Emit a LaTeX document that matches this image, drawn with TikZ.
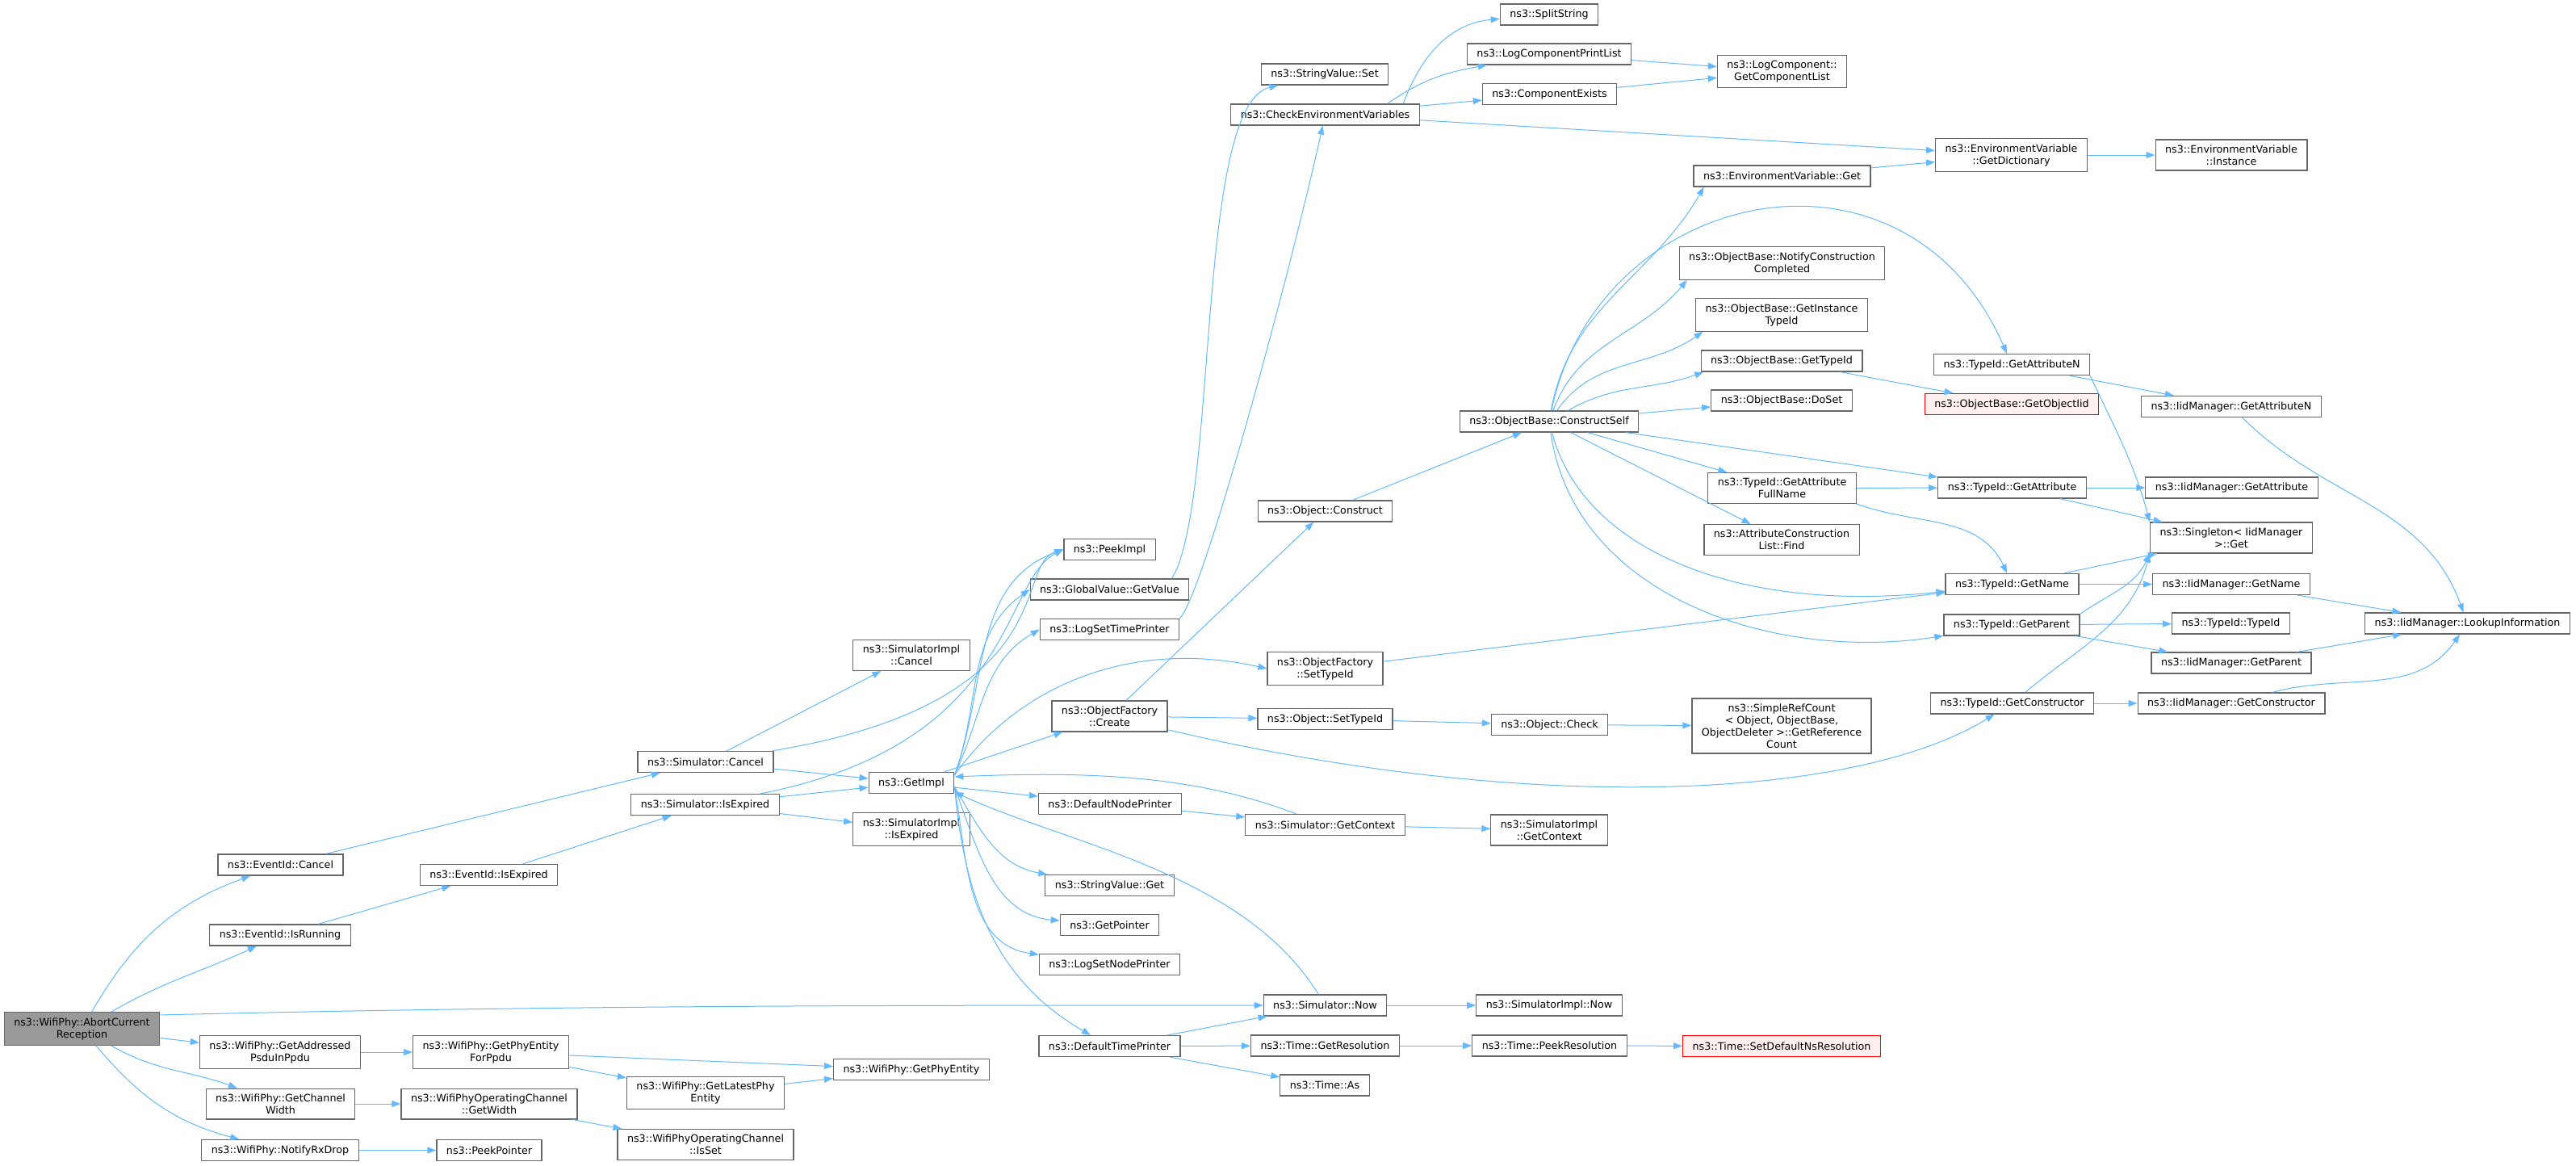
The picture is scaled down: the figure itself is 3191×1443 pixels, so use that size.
\documentclass[tikz,border=0pt]{standalone}
\usepackage{fontspec}
\setmainfont{DejaVu Sans}
\usepackage{tikz}
\usetikzlibrary{arrows.meta}
\usepackage{xcolor}
\definecolor{edgeBlue}{RGB}{99,184,255}
\definecolor{boxGray}{RGB}{102,102,102}
\definecolor{rootGray}{RGB}{153,153,153}
\definecolor{missRed}{RGB}{255,0,0}
\definecolor{missFill}{RGB}{255,240,240}

\begin{document}
\begin{tikzpicture}[
    x=1pt, y=-1pt,
    func/.style={rectangle, draw=boxGray, line width=1.2pt, fill=white, inner xsep=12pt, inner ysep=6.5pt, minimum height=26pt, align=center, font=\fontsize{12.7}{15}\selectfont},
    rootfunc/.style={func, fill=rootGray},
    missing/.style={func, draw=missRed, fill=missFill},
    arrow/.style={-{Triangle[length=11pt, width=8pt]}, draw=edgeBlue, line width=1pt}
]
\useasboundingbox (0,0) rectangle (3191,1443);

\node[rootfunc] (abort) at (101.5,1274) {ns3::WifiPhy::AbortCurrent\\Reception};
\node[func] (evCancel) at (347.5,1071) {ns3::EventId::Cancel};
\node[func] (evRunning) at (347,1158) {ns3::EventId::IsRunning};
\node[func] (addressed) at (347,1303) {ns3::WifiPhy::GetAddressed\\PsduInPpdu};
\node[func] (chanWidth) at (347.5,1367) {ns3::WifiPhy::GetChannel\\Width};
\node[func] (rxDrop) at (347,1424.5) {ns3::WifiPhy::NotifyRxDrop};
\node[func] (evExpired) at (605.5,1083.5) {ns3::EventId::IsExpired};
\node[func] (phyForPpdu) at (608,1303) {ns3::WifiPhy::GetPhyEntity\\ForPpdu};
\node[func] (opGetWidth) at (606,1367) {ns3::WifiPhyOperatingChannel\\::GetWidth};
\node[func] (peekPointer) at (606,1424.5) {ns3::PeekPointer};
\node[func] (simCancel) at (874,943.5) {ns3::Simulator::Cancel};
\node[func] (simExpired) at (873.5,996.5) {ns3::Simulator::IsExpired};
\node[func] (latestPhy) at (874,1353.5) {ns3::WifiPhy::GetLatestPhy\\Entity};
\node[func] (opIsSet) at (874,1417.5) {ns3::WifiPhyOperatingChannel\\::IsSet};
\node[func] (implCancel) at (1129,811.5) {ns3::SimulatorImpl\\::Cancel};
\node[func] (getImpl) at (1129,969.5) {ns3::GetImpl};
\node[func] (implExpired) at (1129,1027) {ns3::SimulatorImpl\\::IsExpired};
\node[func] (getPhyEntity) at (1129,1324.5) {ns3::WifiPhy::GetPhyEntity};
\node[func] (peekImpl) at (1374.5,680.5) {ns3::PeekImpl};
\node[func] (gvGetValue) at (1374.5,730) {ns3::GlobalValue::GetValue};
\node[func] (logSetTime) at (1374.5,779.5) {ns3::LogSetTimePrinter};
\node[func] (ofCreate) at (1374.5,887) {ns3::ObjectFactory\\::Create};
\node[func] (defNodePrinter) at (1375,995.5) {ns3::DefaultNodePrinter};
\node[func] (svGet) at (1374.5,1096.5) {ns3::StringValue::Get};
\node[func] (getPointer) at (1374.5,1145.5) {ns3::GetPointer};
\node[func] (logSetNode) at (1374.5,1194.5) {ns3::LogSetNodePrinter};
\node[func] (defTimePrinter) at (1374.5,1295.5) {ns3::DefaultTimePrinter};
\node[func] (svSet) at (1641,92) {ns3::StringValue::Set};
\node[func] (checkEnv) at (1641.5,142) {ns3::CheckEnvironmentVariables};
\node[func] (objConstruct) at (1641.5,633) {ns3::Object::Construct};
\node[func] (ofSetTypeId) at (1641.5,828) {ns3::ObjectFactory\\::SetTypeId};
\node[func] (objSetTypeId) at (1641.5,890.5) {ns3::Object::SetTypeId};
\node[func] (simGetContext) at (1641.5,1021.5) {ns3::Simulator::GetContext};
\node[func] (simNow) at (1641.5,1245) {ns3::Simulator::Now};
\node[func] (timeGetRes) at (1641.5,1295) {ns3::Time::GetResolution};
\node[func] (timeAs) at (1641,1344) {ns3::Time::As};
\node[func] (splitString) at (1919,18) {ns3::SplitString};
\node[func] (logCompPrint) at (1919,67) {ns3::LogComponentPrintList};
\node[func] (compExists) at (1919.5,116.5) {ns3::ComponentExists};
\node[func] (constructSelf) at (1919,522) {ns3::ObjectBase::ConstructSelf};
\node[func] (objCheck) at (1919.5,897.5) {ns3::Object::Check};
\node[func] (implGetContext) at (1919,1028) {ns3::SimulatorImpl\\::GetContext};
\node[func] (implNow) at (1919,1245) {ns3::SimulatorImpl::Now};
\node[func] (timePeekRes) at (1919.5,1295) {ns3::Time::PeekResolution};
\node[func] (getCompList) at (2207.5,88.5) {ns3::LogComponent::\\GetComponentList};
\node[func] (envGet) at (2207.5,218) {ns3::EnvironmentVariable::Get};
\node[func] (notifyCC) at (2207.5,326) {ns3::ObjectBase::NotifyConstruction\\Completed};
\node[func] (getInstTypeId) at (2207,390) {ns3::ObjectBase::GetInstance\\TypeId};
\node[func] (obGetTypeId) at (2207,447) {ns3::ObjectBase::GetTypeId};
\node[func] (obDoSet) at (2207,496) {ns3::ObjectBase::DoSet};
\node[func] (tidGetAttrFull) at (2207.5,604.5) {ns3::TypeId::GetAttribute\\FullName};
\node[func] (acFind) at (2207,668.5) {ns3::AttributeConstruction\\List::Find};
\node[func] (simpleRef) at (2207,899) {ns3::SimpleRefCount\\< Object, ObjectBase,\\ObjectDeleter >::GetReference\\Count};
\node[missing] (timeSetDef) at (2207,1295.5) {ns3::Time::SetDefaultNsResolution};
\node[func] (getDict) at (2491.5,192) {ns3::EnvironmentVariable\\::GetDictionary};
\node[func] (tidGetAttrN) at (2492,451.5) {ns3::TypeId::GetAttributeN};
\node[missing] (getObjectIid) at (2492,500.5) {ns3::ObjectBase::GetObjectIid};
\node[func] (tidGetAttr) at (2492.5,604) {ns3::TypeId::GetAttribute};
\node[func] (tidGetName) at (2492.5,723.5) {ns3::TypeId::GetName};
\node[func] (tidGetParent) at (2492,774) {ns3::TypeId::GetParent};
\node[func] (tidGetCtor) at (2492.5,871) {ns3::TypeId::GetConstructor};
\node[func] (envInstance) at (2764,192) {ns3::EnvironmentVariable\\::Instance};
\node[func] (iidGetAttrN) at (2764,503.5) {ns3::IidManager::GetAttributeN};
\node[func] (iidGetAttr) at (2764.5,604) {ns3::IidManager::GetAttribute};
\node[func] (singletonGet) at (2764,666) {ns3::Singleton< IidManager\\>::Get};
\node[func] (iidGetName) at (2764,723.5) {ns3::IidManager::GetName};
\node[func] (tidTypeId) at (2763.5,772) {ns3::TypeId::TypeId};
\node[func] (iidGetParent) at (2764,821) {ns3::IidManager::GetParent};
\node[func] (iidGetCtor) at (2764,871) {ns3::IidManager::GetConstructor};
\node[func] (lookupInfo) at (3056.5,772) {ns3::IidManager::LookupInformation};

\draw[arrow] (abort) to[out=60,in=200] (evCancel);
\draw[arrow] (abort) to[out=30,in=205] (evRunning);
\draw[arrow] (abort.10) .. controls (700,1245) and (1100,1245) .. (simNow.west);
\draw[arrow] (abort) -- (addressed);
\draw[arrow] (abort) to[out=-30,in=160] (chanWidth);
\draw[arrow] (abort) to[out=-50,in=165] (rxDrop);
\draw[arrow] (evCancel) -- (simCancel);
\draw[arrow] (evRunning) -- (evExpired);
\draw[arrow] (evExpired) -- (simExpired);
\draw[arrow] (addressed) -- (phyForPpdu);
\draw[arrow] (phyForPpdu) -- (getPhyEntity);
\draw[arrow] (phyForPpdu) -- (latestPhy);
\draw[arrow] (latestPhy) -- (getPhyEntity);
\draw[arrow] (chanWidth) -- (opGetWidth);
\draw[arrow] (opGetWidth) -- (opIsSet);
\draw[arrow] (rxDrop) -- (peekPointer);
\draw[arrow] (simCancel) -- (implCancel);
\draw[arrow] (simCancel) -- (getImpl);
\draw[arrow] (simCancel) .. controls (1320,870) and (1255,700) .. (peekImpl.west);
\draw[arrow] (simExpired) -- (getImpl);
\draw[arrow] (simExpired) -- (implExpired);
\draw[arrow] (simExpired) .. controls (1260,920) and (1240,720) .. (peekImpl.west);
\draw[arrow] (getImpl.10) to[out=70,in=200] (peekImpl.west);
\draw[arrow] (getImpl.10) to[out=70,in=215] (gvGetValue.west);
\draw[arrow] (getImpl.10) to[out=65,in=210] (logSetTime.west);
\draw[arrow] (getImpl.10) .. controls (1260,850) and (1400,790) .. (ofSetTypeId.west);
\draw[arrow] (getImpl) -- (ofCreate);
\draw[arrow] (getImpl) -- (defNodePrinter);
\draw[arrow] (getImpl.-5) to[out=-60,in=170] (svGet);
\draw[arrow] (getImpl.-5) to[out=-70,in=175] (getPointer);
\draw[arrow] (getImpl.-5) to[out=-80,in=172] (logSetNode);
\draw[arrow] (getImpl.-5) to[out=-85,in=150] (defTimePrinter);
\draw[arrow] (simGetContext) .. controls (1480,960) and (1350,955) .. (getImpl.8);
\draw[arrow] (simNow) .. controls (1540,1080) and (1320,1045) .. (getImpl.-12);
\draw[arrow] (gvGetValue.10) .. controls (1510,620) and (1480,130) .. (svSet);
\draw[arrow] (logSetTime.north east) .. controls (1490,740) and (1600,330) .. (checkEnv);
\draw[arrow] (checkEnv.8) to[out=70,in=185] (splitString);
\draw[arrow] (checkEnv.10) to[out=35,in=190] (logCompPrint);
\draw[arrow] (checkEnv) -- (compExists);
\draw[arrow] (checkEnv) -- (getDict);
\draw[arrow] (logCompPrint) -- (getCompList);
\draw[arrow] (compExists) -- (getCompList);
\draw[arrow] (envGet) -- (getDict);
\draw[arrow] (getDict) -- (envInstance);
\draw[arrow] (ofCreate) -- (objConstruct);
\draw[arrow] (ofCreate) -- (objSetTypeId);
\draw[arrow] (ofCreate) .. controls (1900,1010) and (2300,990) .. (tidGetCtor);
\draw[arrow] (ofSetTypeId) -- (tidGetName);
\draw[arrow] (objConstruct) -- (constructSelf);
\draw[arrow] (objSetTypeId) -- (objCheck);
\draw[arrow] (objCheck) -- (simpleRef);
\draw[arrow] (defNodePrinter) -- (simGetContext);
\draw[arrow] (simGetContext) -- (implGetContext);
\draw[arrow] (simNow) -- (implNow);
\draw[arrow] (defTimePrinter) -- (simNow);
\draw[arrow] (defTimePrinter) -- (timeGetRes);
\draw[arrow] (defTimePrinter) -- (timeAs);
\draw[arrow] (timeGetRes) -- (timePeekRes);
\draw[arrow] (timePeekRes) -- (timeSetDef);
\draw[arrow] (constructSelf) to[out=80,in=240] (envGet.188);
\draw[arrow] (constructSelf) .. controls (1980,230) and (2360,150) .. (tidGetAttrN);
\draw[arrow] (constructSelf) to[out=70,in=230] (notifyCC.190);
\draw[arrow] (constructSelf) to[out=55,in=215] (getInstTypeId.192);
\draw[arrow] (constructSelf) to[out=30,in=200] (obGetTypeId.188);
\draw[arrow] (constructSelf) -- (obDoSet);
\draw[arrow] (constructSelf) -- (tidGetAttr);
\draw[arrow] (constructSelf) -- (tidGetAttrFull);
\draw[arrow] (constructSelf) -- (acFind);
\draw[arrow] (constructSelf) .. controls (1960,680) and (2150,760) .. (tidGetName);
\draw[arrow] (constructSelf) .. controls (1950,740) and (2200,820) .. (tidGetParent);
\draw[arrow] (obGetTypeId) -- (getObjectIid);
\draw[arrow] (tidGetAttrN) -- (iidGetAttrN);
\draw[arrow] (tidGetAttrN.south east) to[out=-65,in=105] (singletonGet.north west);
\draw[arrow] (tidGetAttrFull) -- (tidGetAttr);
\draw[arrow] (tidGetAttrFull.south east) to[out=-20,in=115] (tidGetName);
\draw[arrow] (tidGetAttr) -- (iidGetAttr);
\draw[arrow] (tidGetAttr) -- (singletonGet);
\draw[arrow] (tidGetName) -- (singletonGet);
\draw[arrow] (tidGetName) -- (iidGetName);
\draw[arrow] (tidGetParent.north east) to[out=35,in=245] (singletonGet.south west);
\draw[arrow] (tidGetParent) -- (tidTypeId);
\draw[arrow] (tidGetParent) -- (iidGetParent);
\draw[arrow] (tidGetCtor) to[out=40,in=255] (singletonGet.south west);
\draw[arrow] (tidGetCtor) -- (iidGetCtor);
\draw[arrow] (iidGetAttrN) to[out=-45,in=110] (lookupInfo);
\draw[arrow] (iidGetName) -- (lookupInfo);
\draw[arrow] (iidGetParent) -- (lookupInfo);
\draw[arrow] (iidGetCtor) to[out=15,in=235] (lookupInfo);

\end{tikzpicture}
\end{document}
